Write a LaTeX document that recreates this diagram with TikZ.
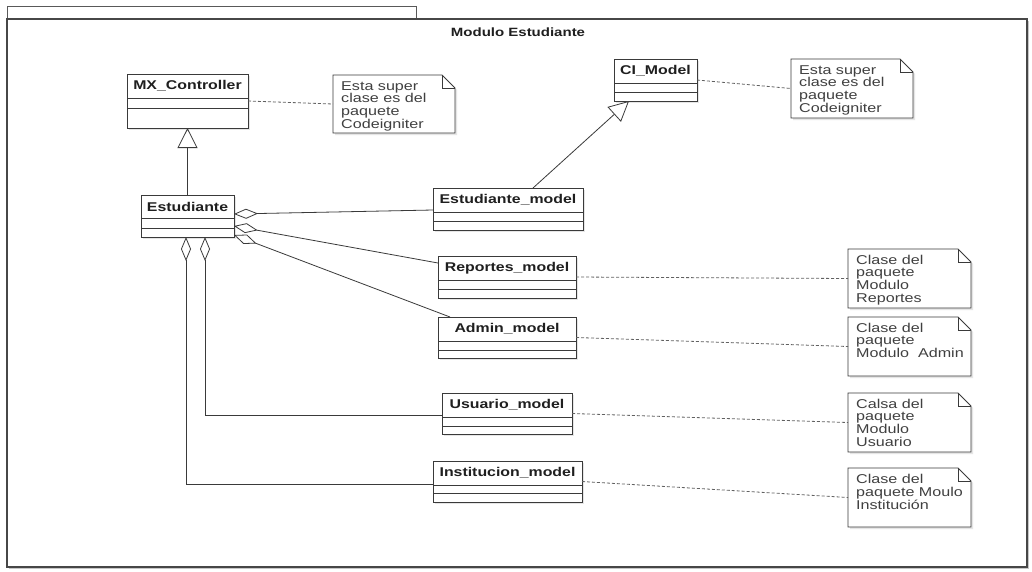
\documentclass[tikz,border=0pt]{standalone}
\usepackage{fontspec}
\usepackage{graphicx}
\newfontfamily\umlfont[FakeStretch=1.25]{Liberation Sans}
\newfontfamily\notefont{Liberation Sans}
\usetikzlibrary{arrows.meta,calc,shadows}

\definecolor{ink}{HTML}{3A3A3A}
\definecolor{notetxt}{HTML}{404040}

\tikzset{
  pkgframe/.style={draw=black!72, line width=1.6pt, fill=white, inner sep=0, outer sep=0,
    drop shadow={shadow xshift=2pt, shadow yshift=-2pt, fill=black!22, opacity=1}},
  pkgtab/.style={draw=black!65, line width=0.9pt, inner sep=0, outer sep=0},
  pkgtitle/.style={font=\umlfont\bfseries\fontsize{12}{14}\selectfont, text=black!88, inner sep=0},
  classbox/.style={draw=ink, line width=0.95pt, fill=white, inner sep=0, outer sep=0,
    drop shadow={shadow xshift=2pt, shadow yshift=-2pt, fill=black!10, opacity=1}},
  classname/.style={font=\umlfont\bfseries\fontsize{12.7}{15}\selectfont, text=black!88, inner sep=0},
  classsep/.style={draw=ink, line width=0.8pt},
  notebody/.style={draw=none, inner sep=0, outer sep=0},
  noteline/.style={draw=ink, line width=0.8pt, fill=white, line join=miter},
  noteshade/.style={drop shadow={shadow xshift=2pt, shadow yshift=-2pt, fill=black!10, opacity=1}},
  notetext/.style={font=\notefont\fontsize{12.8}{12.3}\selectfont, text=notetxt,
    inner sep=0, anchor=north west},
  generalize/.style={draw=ink, line width=0.8pt,
    -{Triangle[open, length=20pt, width=20pt, fill=white]}},
  aggregate/.style={draw=ink, line width=0.8pt,
    {Diamond[open, length=24pt, width=10pt, fill=white]}-},
  notelink/.style={draw=black!62, line width=0.8pt, dash pattern=on 3pt off 2pt},
}

% note lines, widened like the class names
\newcommand\notelines[1]{\scalebox{1.26}[1]{\begin{tabular}[t]{@{}l@{}}#1\end{tabular}}}

% #1 name, #2 left, #3 top, #4 width, #5/#6/#7 compartment heights, #8 class name
\newcommand\umlclass[8]{%
  \node[classbox, minimum width=#4pt, minimum height=#5pt+#6pt+#7pt, anchor=north west] (#1) at (#2,#3) {};
  \node[classname] (#1-t) at ($(#1.north)+(0,#5/2)$) {#8};
  \draw[classsep] ($(#1.north west)+(0,#5)$) -- ($(#1.north east)+(0,#5)$);
  \draw[classsep] ($(#1.north west)+(0,#5+#6)$) -- ($(#1.north east)+(0,#5+#6)$);
}

% #1 name, #2 left, #3 top, #4 width, #5 height, #6 text
\newcommand\umlnote[6]{%
  \node[notebody, minimum width=#4pt, minimum height=#5pt, anchor=north west] (#1) at (#2,#3) {};
  \path[noteline, noteshade] (#1.north west) -- ($(#1.north east)+(-13,0)$) -- ($(#1.north east)+(0,13)$)
     -- (#1.south east) -- (#1.south west) -- cycle;
  \draw[noteline, fill=none] ($(#1.north east)+(-13,0)$) -- ($(#1.north east)+(-13,13)$) -- ($(#1.north east)+(0,13)$);
  \node[notetext] (#1-t) at ($(#1.north west)+(8,6)$) {\notelines{#6}};
}

\begin{document}
\begin{tikzpicture}[x=1pt, y=-1pt]
  \useasboundingbox (0,0) rectangle (1032,571);

  % package frame with its tab
  \node[pkgtab, minimum width=409pt, minimum height=13pt, anchor=north west] (tab) at (7,6) {};
  \node[pkgframe, minimum width=1020pt, minimum height=548pt, anchor=north west] (pkg) at (7,19) {};
  \node[pkgtitle] (title) at (518,32) {Modulo Estudiante};

  % classes
  \umlclass{mx}{127}{74}{121}{24}{10}{20}{MX\_Controller}
  \umlclass{ci}{614}{59}{83}{24}{9}{9}{CI\_Model}
  \umlclass{est}{141}{195}{93}{23}{10}{9}{Estudiante}
  \umlclass{estm}{433}{188}{150}{24}{9}{9}{Estudiante\_model}
  \umlclass{rep}{438}{256}{138}{24}{9}{9}{Reportes\_model}
  \umlclass{adm}{438}{317}{138}{24}{9}{8}{Admin\_model}
  \umlclass{usu}{442}{393}{130}{24}{9}{8}{Usuario\_model}
  \umlclass{inst}{433}{461}{149}{24}{8}{9}{Institucion\_model}

  % notes
  \umlnote{nmx}{333}{75}{122}{58}{Esta super\\clase es del\\paquete\\Codeigniter}
  \umlnote{nci}{791}{59}{122}{59}{Esta super\\clase es del\\paquete\\Codeigniter}
  \umlnote{nrep}{848}{249}{123}{59}{Clase del\\paquete\\Modulo\\Reportes}
  \umlnote{nadm}{848}{317}{123}{59}{Clase del\\paquete\\Modulo\ \ Admin}
  \umlnote{nusu}{848}{393}{123}{59}{Calsa del\\paquete\\Modulo\\Usuario}
  \umlnote{ninst}{848}{468}{123}{59}{Clase del\\paquete Moulo\\Institución}

  % generalizations
  \draw[generalize] (est.north) -- (mx.south);
  \draw[generalize] ($(estm.north west)+(100,0)$) -- ($(ci.south west)+(15,0)$);

  % aggregations from Estudiante
  \draw[aggregate] ($(est.north east)+(0,19)$) -- ($(estm.north west)+(0,22)$);
  \draw[aggregate] ($(est.north east)+(0,31)$) -- ($(rep.north west)+(0,7)$);
  \draw[aggregate] ($(est.north east)+(0,40)$) -- ($(adm.north west)+(12,0)$);
  \draw[aggregate] ($(est.south west)+(64,0)$) |- ($(usu.north west)+(0,22)$);
  \draw[aggregate] ($(est.south west)+(45,0)$) |- ($(inst.north west)+(0,23)$);

  % note anchors
  \draw[notelink] (mx.east) -- (nmx.west);
  \draw[notelink] (ci.east) -- (nci.west);
  \draw[notelink] (rep.east) -- (nrep.west);
  \draw[notelink] (adm.east) -- (nadm.west);
  \draw[notelink] (usu.east) -- (nusu.west);
  \draw[notelink] (inst.east) -- (ninst.west);
\end{tikzpicture}
\end{document}
